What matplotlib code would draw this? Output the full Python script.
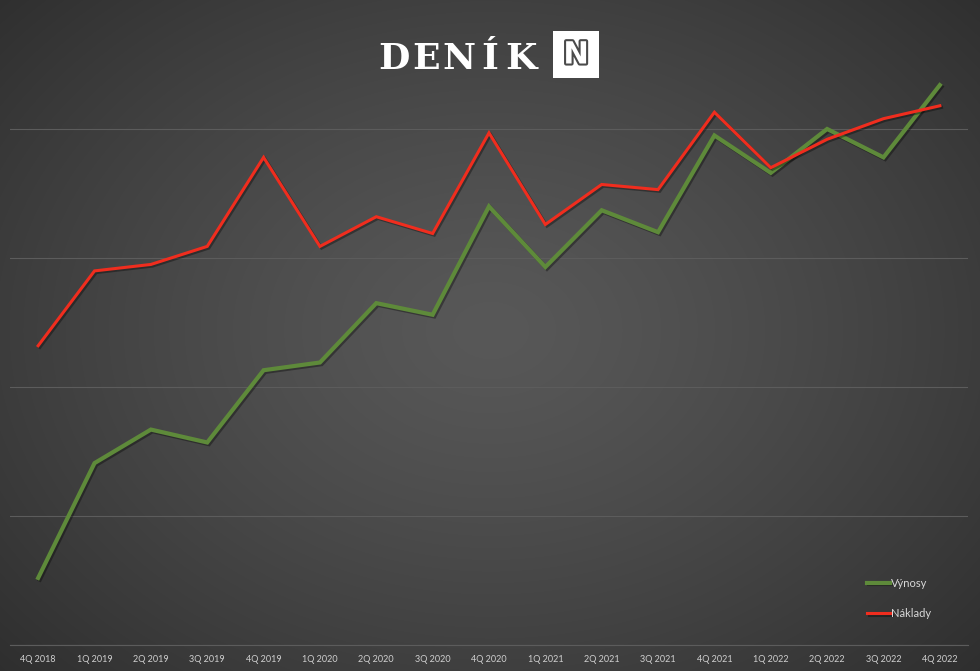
import numpy as np
import matplotlib
matplotlib.use("Agg")
import matplotlib.pyplot as plt
import matplotlib.patheffects as pe
from matplotlib.patches import Rectangle

categories = ["4Q 2018", "1Q 2019", "2Q 2019", "3Q 2019", "4Q 2019", "1Q 2020",
              "2Q 2020", "3Q 2020", "4Q 2020", "1Q 2021", "2Q 2021", "3Q 2021",
              "4Q 2021", "1Q 2022", "2Q 2022", "3Q 2022", "4Q 2022"]
vynosy = [5.2, 14.1, 16.7, 15.7, 21.3, 21.9, 26.5, 25.6, 34.0, 29.3, 33.7, 32.0,
          39.5, 36.6, 40.0, 37.8, 43.4]
naklady = [23.2, 29.0, 29.5, 30.9, 37.8, 30.9, 33.2, 31.9, 39.7, 32.6, 35.7, 35.3,
           41.3, 37.0, 39.2, 40.8, 41.8]
series_names = ["Výnosy", "Náklady"]
yticks = [0, 10, 20, 30, 40]
ymax = 50

W, H = 980, 671
fig = plt.figure(figsize=(W / 100, H / 100), dpi=100)

# radial gradient background
bg = fig.add_axes([0, 0, 1, 1])
yy, xx = np.mgrid[0:H, 0:W]
cx, cy = 490, 330
r = np.sqrt(((xx - cx) / 560.0) ** 2 + ((yy - cy) / 420.0) ** 2)
r = np.clip(r, 0, 1.25) / 1.25
c0, c1 = 0x58 / 255, 0x2c / 255
val = c0 + (c1 - c0) * r ** 1.3
img = np.dstack([val, val, val])
bg.imshow(img, extent=[0, W, H, 0], aspect="auto", interpolation="bilinear")
bg.set_xlim(0, W)
bg.set_ylim(H, 0)
bg.axis("off")

# logo
logo_letters = ["D", "E", "N", "Í", "K"]
logo_x = [394, 426, 459, 490, 521]
for ch, lx in zip(logo_letters, logo_x):
    bg.text(lx, 69, ch, color="white", fontsize=26, fontweight="bold",
            family="DejaVu Serif", ha="center", va="baseline")
bg.add_patch(Rectangle((553, 31), 46, 47, facecolor="white", edgecolor="none"))
bg.text(576, 55, "N", color="white", fontsize=22, fontweight="bold",
        family="DejaVu Sans", ha="center", va="center",
        path_effects=[pe.Stroke(linewidth=3.0, foreground="#4a4a4a"), pe.Normal()])

ax = fig.add_axes([10 / W, (H - 645) / H, 958 / W, 645 / H])
ax.patch.set_alpha(0)
x = np.arange(len(categories))
shadow = [pe.SimpleLineShadow(offset=(1.2, -1.2), shadow_color="black", alpha=0.35), pe.Normal()]
ax.plot(x, vynosy, color="#5e8a3a", lw=3.0, label=series_names[0],
        solid_joinstyle="miter", path_effects=shadow, zorder=3)
ax.plot(x, naklady, color="#f02d1e", lw=2.2, label=series_names[1],
        solid_joinstyle="miter", path_effects=shadow, zorder=4)

ax.set_xlim(-0.5, len(categories) - 0.5)
ax.set_ylim(0, ymax)
ax.set_yticks(yticks)
ax.set_yticklabels([])
ax.tick_params(axis="y", length=0)
ax.grid(axis="y", color="#5c5c5c", lw=0.8)
ax.set_axisbelow(True)
ax.set_xticks(x)
ax.set_xticklabels(categories, fontsize=6.5, color="#d0d0d0", family="Lato")
ax.tick_params(axis="x", length=0, pad=7)
for s in ax.spines.values():
    s.set_visible(False)
ax.spines["bottom"].set_visible(True)
ax.spines["bottom"].set_color("#5c5c5c")
ax.spines["bottom"].set_linewidth(0.8)

leg = ax.legend(loc="lower left", bbox_to_anchor=(847 / 958, 16 / 645), frameon=False,
                handlelength=2.1, handletextpad=0.05, labelspacing=1.75,
                prop={"family": "Lato", "size": 8})
for t in leg.get_texts():
    t.set_color("#d8d8d8")

fig.savefig("out.png", dpi=100)
